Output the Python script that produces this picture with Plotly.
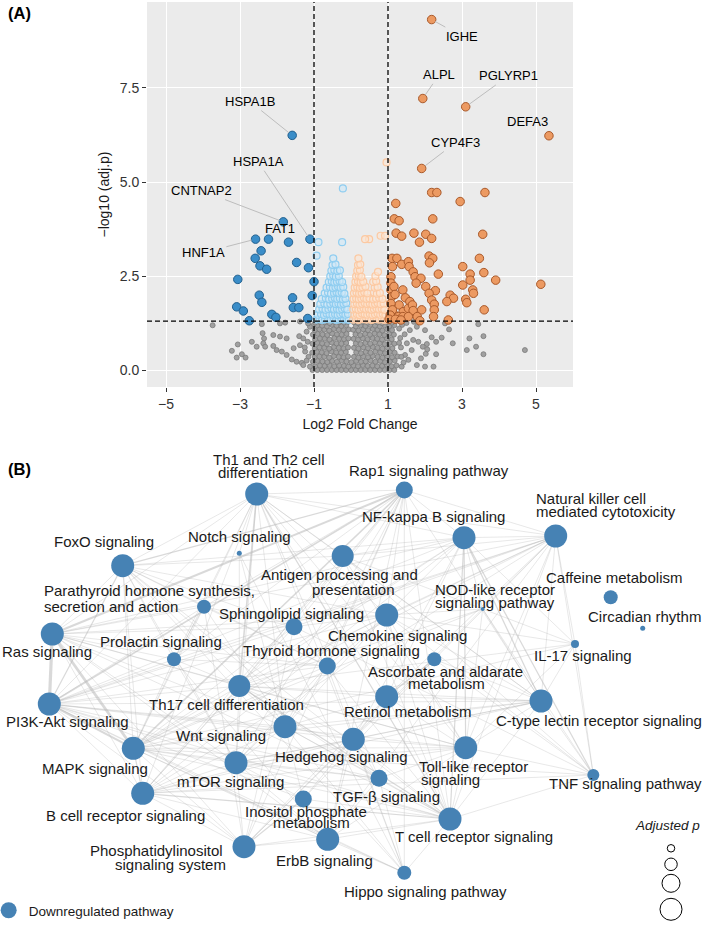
import plotly.graph_objects as go

# ---------------- Panel A : volcano data ----------------
gray_x = [
    -1.04,-0.91,-0.78,-0.65,-0.52,-0.39,-0.26,-0.13,0.00,0.13,0.26,0.39,0.52,0.65,0.78,0.91,1.04,1.17,
    -0.97,-0.84,-0.71,-0.58,-0.45,-0.32,-0.19,-0.07,0.07,0.19,0.32,0.45,0.58,0.71,0.84,0.97,1.10,1.23,
    -1.03,-0.90,-0.77,-0.64,-0.51,-0.38,-0.25,-0.12,0.01,0.14,0.27,0.40,0.53,0.66,0.79,0.92,1.05,1.18,
    -0.98,-0.85,-0.72,-0.59,-0.46,-0.33,-0.20,-0.08,0.08,0.20,0.33,0.46,0.59,0.72,0.85,0.98,1.11,1.26,
    -1.05,-0.92,-0.79,-0.66,-0.53,-0.40,-0.27,-0.14,0.14,0.27,0.40,0.53,0.66,0.79,0.92,1.05,1.18,
    -0.98,-0.85,-0.72,-0.59,-0.46,-0.33,-0.20,-0.08,0.08,0.20,0.33,0.46,0.59,0.72,0.85,0.98,1.12,
    -1.04,-0.91,-0.78,-0.65,-0.52,-0.39,-0.26,-0.13,0.13,0.26,0.39,0.52,0.65,0.78,0.91,1.04,1.17,1.30,
    -0.97,-0.84,-0.71,-0.58,-0.45,-0.32,-0.19,-0.07,0.07,0.19,0.32,0.45,0.58,0.71,0.84,0.97,1.10,
    -1.03,-0.90,-0.77,-0.64,-0.51,-0.38,-0.25,-0.12,0.12,0.25,0.38,0.51,0.64,0.77,0.90,1.03,1.16,
    -0.98,-0.85,-0.72,-0.59,-0.46,-0.33,-0.20,-0.06,0.06,0.20,0.33,0.46,0.59,0.72,0.85,0.98,1.11,
    -1.04,-0.91,-0.78,-0.65,-0.52,-0.39,-0.26,-0.13,0.13,0.26,0.39,0.52,0.65,0.78,0.91,1.04,1.17,
    -0.97,-0.84,-0.71,-0.58,-0.45,-0.32,-0.19,-0.08,0.08,0.19,0.32,0.45,0.58,0.71,0.84,0.97,1.10,
    # scattered, left
    -3.74,-2.41,-1.92,-1.78,-1.38,-2.39,-2.35,-2.37,-2.32,-3.22,-3.06,-3.09,-2.85,-2.95,-2.68,-2.55,
    -2.10,-2.01,-1.87,-1.74,-1.60,-1.47,-1.33,-2.10,-1.92,-1.74,-1.40,-1.29,-1.17,-1.20,-1.11,-1.38,
    -1.24,-1.15,-1.29,-1.11,-1.55,-1.20,-1.16,-1.25,
    # scattered, right
    2.54,3.44,3.58,3.20,3.38,3.13,3.58,4.70,2.75,2.65,2.45,2.30,2.18,2.05,2.23,2.00,2.30,2.02,1.89,
    1.78,2.00,1.78,1.59,1.68,1.51,1.64,1.46,1.55,1.37,1.82,1.94,2.06,1.38,1.45,1.35,1.42,1.33,1.30,
    1.50,1.70,1.36,
]
gray_y = [
    0.00,0.00,0.00,0.00,0.00,0.00,0.00,0.00,0.00,0.00,0.00,0.00,0.00,0.00,0.00,0.00,0.00,0.00,
    0.10,0.12,0.11,0.13,0.10,0.12,0.11,0.09,0.12,0.10,0.13,0.11,0.12,0.10,0.11,0.13,0.10,0.12,
    0.22,0.24,0.23,0.21,0.24,0.22,0.25,0.23,0.21,0.24,0.22,0.23,0.25,0.22,0.24,0.21,0.23,0.25,
    0.34,0.36,0.35,0.33,0.37,0.35,0.34,0.36,0.35,0.33,0.36,0.34,0.37,0.35,0.33,0.36,0.34,0.36,
    0.46,0.48,0.47,0.45,0.49,0.47,0.46,0.48,0.47,0.45,0.48,0.46,0.49,0.47,0.45,0.48,0.46,
    0.58,0.60,0.59,0.57,0.61,0.59,0.58,0.60,0.59,0.57,0.60,0.58,0.61,0.59,0.57,0.60,0.58,
    0.70,0.72,0.71,0.69,0.73,0.71,0.70,0.72,0.71,0.69,0.72,0.70,0.73,0.71,0.69,0.72,0.70,0.72,
    0.82,0.84,0.83,0.81,0.85,0.83,0.82,0.84,0.83,0.81,0.84,0.82,0.85,0.83,0.81,0.84,0.82,
    0.94,0.96,0.95,0.93,0.97,0.95,0.94,0.96,0.95,0.93,0.96,0.94,0.97,0.95,0.93,0.96,0.94,
    1.06,1.08,1.07,1.05,1.09,1.07,1.06,1.08,1.07,1.05,1.08,1.06,1.09,1.07,1.05,1.08,1.06,
    1.17,1.19,1.18,1.16,1.20,1.18,1.17,1.19,1.16,1.19,1.17,1.20,1.18,1.16,1.19,1.17,1.19,
    1.26,1.28,1.27,1.25,1.28,1.27,1.26,1.28,1.27,1.25,1.28,1.26,1.28,1.27,1.25,1.28,1.26,
    1.19,1.22,1.24,1.26,1.29,0.98,0.84,0.71,0.62,0.51,0.68,0.33,0.33,0.42,0.75,0.62,
    0.64,0.53,0.49,0.40,0.28,0.22,0.19,0.93,0.89,0.84,0.90,0.84,0.75,1.02,1.15,0.66,
    0.49,0.35,0.13,0.09,0.58,0.25,1.24,0.60,
    1.24,1.22,0.90,0.84,0.62,0.53,0.42,0.53,0.71,1.08,0.86,0.75,0.87,0.69,0.09,0.09,0.42,0.43,0.31,
    0.13,1.06,1.15,1.06,0.80,0.71,0.53,0.40,0.27,0.09,0.75,0.62,0.55,1.20,0.95,0.60,0.20,0.85,1.10,
    1.25,1.28,0.35,
]

lightblue_x = [
    -0.93,-0.85,-0.78,-0.70,-0.62,-0.55,-0.47,-0.40,-0.33,-0.26,-0.19,-0.12,-0.06,
    -0.90,-0.81,-0.73,-0.66,-0.58,-0.50,-0.43,-0.36,-0.29,-0.22,-0.15,-0.08,
    -0.86,-0.77,-0.69,-0.61,-0.53,-0.46,-0.38,-0.31,-0.24,-0.17,-0.10,
    -0.83,-0.72,-0.64,-0.56,-0.48,-0.41,-0.34,-0.27,-0.20,-0.13,
    -0.79,-0.68,-0.59,-0.51,-0.44,-0.37,-0.30,-0.22,-0.15,
    -0.71,-0.62,-0.54,-0.46,-0.39,-0.32,-0.25,-0.18,
    -0.66,-0.57,-0.49,-0.42,-0.35,-0.28,-0.21,
    -0.60,-0.52,-0.45,-0.38,-0.31,-0.24,
    -0.56,-0.48,-0.41,-0.33,
    -0.53,-0.45,-0.37,-0.30,
    -0.50,-0.42,
    -0.88,-0.24,-0.93,-0.48,-0.22,
]
lightblue_y = [
    1.34,1.36,1.33,1.35,1.37,1.34,1.36,1.33,1.35,1.37,1.34,1.36,1.33,
    1.47,1.49,1.46,1.50,1.48,1.47,1.49,1.46,1.48,1.50,1.47,1.49,
    1.61,1.63,1.60,1.62,1.64,1.61,1.63,1.60,1.62,1.64,1.61,
    1.75,1.77,1.74,1.76,1.78,1.75,1.77,1.74,1.76,1.78,
    1.89,1.91,1.88,1.90,1.92,1.89,1.91,1.88,1.90,
    2.04,2.06,2.03,2.05,2.07,2.04,2.06,2.03,
    2.19,2.21,2.18,2.20,2.22,2.19,2.21,
    2.34,2.36,2.33,2.35,2.37,2.34,
    2.49,2.51,2.48,2.50,
    2.64,2.66,2.63,2.65,
    2.79,2.81,
    3.40,3.40,3.04,2.97,4.83,
]

peach_x = [
    0.06,0.13,0.20,0.27,0.34,0.41,0.48,0.55,0.62,0.69,0.76,0.83,0.90,0.97,
    0.09,0.16,0.23,0.30,0.37,0.44,0.51,0.58,0.65,0.72,0.79,0.86,0.93,
    0.06,0.13,0.20,0.27,0.34,0.41,0.48,0.55,0.62,0.69,0.76,0.83,0.90,
    0.09,0.16,0.23,0.30,0.37,0.44,0.51,0.58,0.65,0.72,0.80,0.88,
    0.07,0.14,0.21,0.28,0.35,0.42,0.50,0.60,0.68,0.76,0.85,
    0.08,0.15,0.22,0.29,0.36,0.44,0.62,0.70,0.78,
    0.10,0.17,0.24,0.31,0.39,0.64,0.72,
    0.12,0.19,0.26,0.33,0.60,0.68,
    0.14,0.21,0.28,0.66,
    0.17,0.24,0.73,
    0.19,0.25,0.20,
    0.49,0.38,0.80,0.92,0.96,
]
peach_y = [
    1.34,1.36,1.33,1.35,1.37,1.34,1.36,1.33,1.35,1.37,1.34,1.36,1.33,1.35,
    1.47,1.49,1.46,1.50,1.48,1.47,1.49,1.46,1.48,1.50,1.47,1.49,1.46,
    1.61,1.63,1.60,1.62,1.64,1.61,1.63,1.60,1.62,1.64,1.61,1.63,1.60,
    1.75,1.77,1.74,1.76,1.78,1.75,1.77,1.74,1.76,1.78,1.75,1.77,
    1.89,1.91,1.88,1.90,1.92,1.89,1.91,1.88,1.90,1.92,1.89,
    2.04,2.06,2.03,2.05,2.07,2.04,2.06,2.03,2.05,
    2.19,2.21,2.18,2.20,2.22,2.19,2.21,
    2.34,2.36,2.33,2.35,2.34,2.36,
    2.49,2.51,2.48,2.50,
    2.64,2.66,2.61,
    2.79,2.81,2.97,
    3.48,3.48,3.57,3.57,5.52,
]

down_x = [-1.59,-1.83,-2.58,-2.23,-1.69,-1.11,-2.43,-2.59,-1.47,-2.46,-2.28,-1.15,-3.06,-1.00,
          -2.48,-1.05,-1.58,-2.41,-3.09,-2.91,-1.56,-1.41,-2.14,-2.03,-2.75,-1.17]
down_y = [6.24,3.94,3.48,3.48,3.40,3.48,3.17,2.97,2.86,2.77,2.68,2.72,2.41,2.35,
          1.99,1.98,1.92,1.80,1.68,1.57,1.66,1.66,1.48,1.40,1.31,1.37]

up_x = [2.18,1.94,3.10,5.35,1.91,2.18,2.32,3.62,1.21,2.95,1.17,1.30,2.21,1.22,1.37,1.70,2.02,2.18,1.85,3.56,
        1.11,1.24,1.12,1.37,1.55,1.57,2.11,2.21,2.12,1.68,1.73,1.89,1.76,2.36,3.02,3.22,3.22,3.59,3.47,3.91,
        5.13,3.02,3.29,3.31,1.40,2.02,2.28,2.11,2.68,2.77,2.59,3.10,3.13,1.47,1.59,2.18,2.25,1.30,1.41,1.55,
        1.66,1.91,1.68,2.25,3.60,1.14,1.28,1.40,1.55,1.79,1.86,2.23,2.63,1.08,1.08,1.08,1.10,1.08,1.12,1.06,
        1.16,1.19,1.03,1.20,1.35]
up_y = [9.32,7.22,7.00,6.23,5.36,4.72,4.72,4.72,4.43,4.48,4.02,3.97,4.02,3.64,3.56,3.64,3.61,3.50,3.40,3.61,
        2.97,2.97,2.75,2.81,2.88,2.75,3.03,2.97,2.85,2.61,2.48,2.44,2.31,2.55,2.75,2.55,2.39,2.59,2.97,2.39,
        2.28,2.26,2.13,2.04,2.13,2.22,2.11,2.04,1.99,1.91,1.82,1.88,1.79,1.92,1.82,1.86,1.75,1.73,1.55,1.64,
        1.73,1.60,1.58,1.60,1.60,1.51,1.42,1.42,1.42,1.42,1.31,1.42,1.33,2.48,2.31,2.13,1.95,1.77,1.60,1.46,
        2.22,2.01,1.35,1.35,1.33]

gene_labels = ["IGHE", "ALPL", "PGLYRP1", "DEFA3", "CYP4F3", "HSPA1B", "HSPA1A", "CNTNAP2", "FAT1", "HNF1A"]
gene_x = [2.18, 1.94, 3.10, 5.35, 1.91, -1.59, -1.11, -1.83, -1.69, -2.58]
gene_y = [9.32, 7.22, 7.00, 6.23, 5.36, 6.24, 3.48, 3.94, 3.40, 3.48]
gene_label_x = [2.99, 2.38, 4.25, 4.77, 2.83, -2.73, -2.51, -4.04, -1.92, -3.99]
gene_label_y = [8.88, 7.85, 7.82, 6.60, 6.05, 7.14, 5.54, 4.77, 3.77, 3.12]
gene_segment = [True, True, True, False, True, True, True, True, False, True]

x_ticks = [-5, -3, -1, 1, 3, 5]
x_ticktext = ["\u22125", "\u22123", "\u22121", "1", "3", "5"]
y_ticks = [0.0, 2.5, 5.0, 7.5]
fc_cut = 1.0
p_cut = 1.30103  # -log10(0.05)

# ---------------- Panel B : pathway network ----------------
node_id = ["Th1", "Rap1", "NFkB", "NK", "FoxO", "Notch", "Antigen", "Parathyroid", "Sphingo", "Chemokine",
           "NOD", "Caffeine", "Circadian", "Ras", "Prolactin", "Thyroid", "Ascorbate", "IL17", "Th17", "PI3K",
           "Retinol", "Ctype", "Wnt", "Hedgehog", "MAPK", "Toll", "mTOR", "TGFb", "TNF", "Inositol",
           "Bcell", "Tcell", "PhosIno", "ErbB", "Hippo"]
node_x = [256.7, 404.3, 464.0, 555.7, 122.7, 239.3, 342.7, 204.0, 294.0, 386.7,
          482.7, 610.7, 642.7, 52.3, 174.0, 327.3, 434.3, 575.0, 239.3, 49.3,
          386.7, 541.0, 285.0, 353.3, 133.3, 465.7, 236.0, 379.0, 593.3, 303.3,
          142.7, 450.0, 244.0, 327.7, 404.3]
node_y = [494.0, 490.0, 537.7, 536.0, 565.7, 553.3, 556.0, 606.7, 626.7, 615.0,
          609.0, 597.3, 628.3, 634.0, 659.3, 666.0, 659.3, 644.0, 686.0, 704.0,
          696.7, 701.0, 726.7, 739.3, 748.3, 747.7, 762.7, 778.3, 775.0, 799.0,
          793.3, 819.0, 846.7, 839.3, 872.7]
node_size = [23, 17, 23, 23, 23, 5, 22, 14, 17, 23,
             4, 14, 5, 23, 14, 17, 14, 8, 22, 23,
             23, 23, 23, 23, 23, 23, 23, 17, 12, 17,
             23, 23, 23, 23, 14]

edges = [
    ("Ras","PI3K",4),("Ras","MAPK",3.5),("PI3K","MAPK",2.5),("Ras","Rap1",2.5),("PI3K","Rap1",2),("MAPK","Rap1",2),
    ("FoxO","PI3K",1.5),("FoxO","Ras",1),("FoxO","MAPK",1),("FoxO","mTOR",1),("FoxO","Th1",1),("FoxO","Rap1",1.5),
    ("FoxO","Antigen",1),("FoxO","Chemokine",1),("FoxO","NFkB",1),("FoxO","Thyroid",1),("FoxO","Prolactin",1),
    ("FoxO","Wnt",1),("FoxO","Tcell",1),("FoxO","TGFb",1),("FoxO","Hippo",1),("FoxO","Bcell",1),("FoxO","Sphingo",1),
    ("Th1","Th17",2),("Th1","Tcell",1.5),("Th1","NFkB",1),("Th1","Notch",1),("Th1","MAPK",1),("Th1","PI3K",1),
    ("Th1","Ras",1),("Th1","Antigen",1),("Th1","Toll",1),("Th1","Ctype",1),("Th1","Chemokine",1),("Th1","Bcell",1),
    ("Th1","mTOR",1),("Th1","Prolactin",1),("Th1","TGFb",1),("Th1","NK",1),("Th1","Rap1",1),("Th1","Wnt",1),
    ("Th1","Hedgehog",1),("Th1","Retinol",1),
    ("Rap1","Chemokine",1),("Rap1","NFkB",1),("Rap1","Sphingo",1),("Rap1","Thyroid",1),("Rap1","Prolactin",1),
    ("Rap1","Parathyroid",1),("Rap1","Tcell",1),("Rap1","Bcell",1),("Rap1","ErbB",1),("Rap1","mTOR",1),
    ("Rap1","Wnt",1),("Rap1","Ctype",1),("Rap1","PhosIno",1),("Rap1","Hippo",1),("Rap1","Th17",1),("Rap1","NK",1),
    ("NFkB","Toll",1.5),("NFkB","Tcell",1.5),("NFkB","Bcell",1),("NFkB","TNF",1.5),("NFkB","IL17",1),("NFkB","NOD",1),
    ("NFkB","Chemokine",1),("NFkB","Ctype",1.5),("NFkB","Antigen",1),("NFkB","Th17",1),("NFkB","PI3K",1),
    ("NFkB","MAPK",1),("NFkB","NK",1),("NFkB","Ras",1),("NFkB","Retinol",1),("NFkB","Hedgehog",1),
    ("NK","Tcell",1),("NK","Bcell",1),("NK","Ctype",1),("NK","IL17",1),("NK","TNF",1),("NK","Antigen",1),
    ("NK","Chemokine",1),("NK","MAPK",1),("NK","PI3K",1),("NK","Ras",1),("NK","Toll",1),("NK","Sphingo",1),
    ("NK","Th17",1),("NK","Ascorbate",1),("NK","Retinol",1),("NK","PhosIno",1),("NK","ErbB",1),("NK","Prolactin",1),
    ("Antigen","Th17",1),("Antigen","Tcell",1),("Antigen","Toll",1),("Antigen","NOD",1),("Antigen","TNF",1),("Antigen","Ctype",1),
    ("Chemokine","PI3K",1),("Chemokine","Ras",1),("Chemokine","MAPK",1),("Chemokine","Toll",1),("Chemokine","NOD",1),
    ("Chemokine","IL17",1),("Chemokine","TNF",1),("Chemokine","Ctype",1),("Chemokine","Tcell",1),("Chemokine","Wnt",1),
    ("Chemokine","mTOR",1),("Chemokine","Sphingo",1),("Chemokine","Thyroid",1),("Chemokine","Retinol",1),
    ("Parathyroid","Ras",1),("Parathyroid","PI3K",1),("Parathyroid","MAPK",1),("Parathyroid","Thyroid",1),
    ("Parathyroid","Sphingo",1),("Parathyroid","Wnt",1),("Parathyroid","FoxO",1),("Parathyroid","PhosIno",1),("Parathyroid","Prolactin",1),
    ("Sphingo","Ras",1),("Sphingo","PI3K",1),("Sphingo","MAPK",1),("Sphingo","Tcell",1),("Sphingo","TNF",1),
    ("Sphingo","Bcell",1),("Sphingo","PhosIno",1),
    ("NOD","Toll",1),("NOD","IL17",1),("NOD","TNF",1),("NOD","Ctype",1),("NOD","MAPK",1),("NOD","Th17",1),
    ("Prolactin","Ras",1),("Prolactin","PI3K",1),("Prolactin","MAPK",1),("Prolactin","Th17",1),("Prolactin","mTOR",1),
    ("Prolactin","ErbB",1),("Prolactin","Thyroid",1),
    ("Thyroid","PI3K",1),("Thyroid","Ras",1),("Thyroid","MAPK",1),("Thyroid","Wnt",1),("Thyroid","mTOR",1),
    ("Thyroid","ErbB",1),("Thyroid","Hippo",1),
    ("Ascorbate","Retinol",1.5),("Ascorbate","Inositol",1),("Ascorbate","PhosIno",1),("Ascorbate","TNF",1),("Ascorbate","Ctype",1),
    ("IL17","Toll",1),("IL17","TNF",1),("IL17","Ctype",1),("IL17","MAPK",1),("IL17","Th17",1),
    ("Th17","Tcell",1.5),("Th17","PI3K",1),("Th17","Ras",1),("Th17","MAPK",1),("Th17","TGFb",1),("Th17","mTOR",1),
    ("Th17","Toll",1),("Th17","Ctype",1),("Th17","Bcell",1),("Th17","Wnt",1),("Th17","Hedgehog",1),
    ("PI3K","mTOR",1),("PI3K","Bcell",1),("PI3K","Tcell",1),("PI3K","ErbB",1),("PI3K","Toll",1),("PI3K","Wnt",1),
    ("PI3K","PhosIno",1),("PI3K","Ctype",1),("PI3K","Hippo",1),("PI3K","TGFb",1),("PI3K","Hedgehog",1),("PI3K","Inositol",1),
    ("Ras","mTOR",1),("Ras","Bcell",1),("Ras","Tcell",1),("Ras","ErbB",1),("Ras","PhosIno",1),("Ras","Toll",1),("Ras","Wnt",1),
    ("MAPK","Bcell",1.5),("MAPK","Tcell",1),("MAPK","ErbB",1),("MAPK","Toll",1),("MAPK","TNF",1),("MAPK","Ctype",1),
    ("MAPK","mTOR",1),("MAPK","Wnt",1),("MAPK","TGFb",1),("MAPK","PhosIno",1),("MAPK","Hippo",1),
    ("Retinol","Inositol",1),("Retinol","Hedgehog",1),("Retinol","Tcell",1),("Retinol","Toll",1),("Retinol","Ctype",1),
    ("Retinol","Wnt",1),("Retinol","Th17",1),("Retinol","PhosIno",1),
    ("Ctype","Toll",1),("Ctype","Tcell",1),("Ctype","TNF",1),("Ctype","Bcell",1),("Ctype","Hedgehog",1),("Ctype","Wnt",1),("Ctype","mTOR",1),
    ("Wnt","Hedgehog",1),("Wnt","mTOR",1),("Wnt","Hippo",1),("Wnt","TGFb",1),("Wnt","Tcell",1),("Wnt","Bcell",1),
    ("Wnt","PhosIno",1),("Wnt","Inositol",1),
    ("Hedgehog","Hippo",1),("Hedgehog","TGFb",1),("Hedgehog","mTOR",1),("Hedgehog","Toll",1),("Hedgehog","Tcell",1),
    ("Hedgehog","Bcell",1),("Hedgehog","ErbB",1),
    ("Toll","Tcell",1),("Toll","TNF",1),("Toll","Bcell",1),("Toll","mTOR",1),("Toll","TGFb",1),("Toll","ErbB",1),
    ("mTOR","Bcell",1),("mTOR","ErbB",1),("mTOR","PhosIno",1),("mTOR","TGFb",1),("mTOR","Tcell",1),("mTOR","Inositol",1),
    ("TGFb","Tcell",1),("TGFb","Hippo",1),("TGFb","ErbB",1),("TGFb","Bcell",1),
    ("TNF","Tcell",1),("TNF","Bcell",1),
    ("Inositol","PhosIno",1.5),("Inositol","ErbB",1),("Inositol","Tcell",1),
    ("Bcell","Tcell",1.5),("Bcell","PhosIno",1),("Bcell","ErbB",1),
    ("Tcell","ErbB",1),("Tcell","Hippo",1),("Tcell","PhosIno",1),
    ("PhosIno","ErbB",1),("ErbB","Hippo",1),
    ("Notch","Th17",1),("Notch","Wnt",1),("Notch","Hippo",1),
]

# label lines: (text, x, y, anchor)
net_labels = [
    ("Th1 and Th2 cell", 268.8, 460.0, "center"),
    ("differentiation", 263.0, 472.7, "center"),
    ("Rap1 signaling pathway", 428.7, 470.7, "center"),
    ("NF-kappa B signaling", 433.7, 516.7, "center"),
    ("Natural killer cell", 534.3, 499.0, "left"),
    ("mediated cytotoxicity", 534.3, 511.7, "left"),
    ("FoxO signaling", 104.0, 541.7, "center"),
    ("Notch signaling", 239.2, 536.7, "center"),
    ("Antigen processing and", 339.7, 574.3, "center"),
    ("presentation", 353.7, 589.3, "center"),
    ("Parathyroid hormone synthesis,", 41.7, 590.7, "left"),
    ("secretion and action", 41.7, 606.7, "left"),
    ("Sphingolipid signaling", 291.5, 613.3, "center"),
    ("Chemokine signaling", 397.2, 635.0, "center"),
    ("NOD-like receptor", 432.7, 589.0, "left"),
    ("signaling pathway", 432.7, 602.3, "left"),
    ("Caffeine metabolism", 614.2, 577.3, "center"),
    ("Circadian rhythm", 644.2, 616.7, "center"),
    ("IL-17 signaling", 582.9, 655.7, "center"),
    ("Ras signaling", 46.7, 651.7, "center"),
    ("Prolactin signaling", 160.8, 641.0, "center"),
    ("Thyroid hormone signaling", 331.7, 650.7, "center"),
    ("Ascorbate and aldarate", 445.8, 671.0, "center"),
    ("metabolism", 446.7, 683.3, "center"),
    ("Retinol metabolism", 408.0, 711.7, "center"),
    ("C-type lectin receptor signaling", 598.5, 720.8, "center"),
    ("Th17 cell differentiation", 226.7, 704.3, "center"),
    ("PI3K-Akt signaling", 67.5, 721.7, "center"),
    ("Wnt signaling", 221.3, 735.7, "center"),
    ("MAPK signaling", 94.5, 768.3, "center"),
    ("mTOR signaling", 230.0, 781.7, "center"),
    ("Hedgehog signaling", 341.0, 756.7, "center"),
    ("Toll-like receptor", 416.7, 766.0, "left"),
    ("signaling", 419.0, 779.3, "left"),
    ("TGF-\u03b2 signaling", 386.3, 796.7, "center"),
    ("Inositol phosphate", 305.5, 811.7, "center"),
    ("metabolism", 311.7, 822.7, "center"),
    ("B cell receptor signaling", 125.0, 815.0, "center"),
    ("Phosphatidylinositol", 225.0, 850.0, "right"),
    ("signaling system", 228.3, 864.3, "right"),
    ("ErbB signaling", 324.0, 860.7, "center"),
    ("T cell receptor signaling", 473.7, 836.7, "center"),
    ("Hippo signaling pathway", 425.8, 891.0, "center"),
    ("TNF signaling pathway", 625.3, 783.3, "center"),
]

size_key_size = [7.5, 12.5, 18, 22]
size_key_y = [848.3, 864.3, 883.3, 909.3]

FONT = "Liberation Sans, Arial, Helvetica, sans-serif"
W, H = 709, 926

fig = go.Figure()

# panel A background (grey panel only behind the volcano plot)
fig.add_shape(type="rect", xref="x domain", yref="y domain", x0=0, x1=1, y0=0, y1=1,
              fillcolor="#ebebeb", line=dict(width=0), layer="below")

# ---- volcano traces ----
fig.add_trace(go.Scatter(x=gray_x, y=gray_y, mode="markers", xaxis="x", yaxis="y", showlegend=False,
                         hoverinfo="skip",
                         marker=dict(size=5, color="#a0a0a0", opacity=1, line=dict(color="#7a7a7a", width=0.8))))
fig.add_trace(go.Scatter(x=lightblue_x, y=lightblue_y, mode="markers", xaxis="x", yaxis="y", showlegend=False,
                         hoverinfo="skip",
                         marker=dict(size=7, color="rgba(205,232,248,0.6)", opacity=1,
                                     line=dict(color="#8fcdf0", width=1.2))))
fig.add_trace(go.Scatter(x=peach_x, y=peach_y, mode="markers", xaxis="x", yaxis="y", showlegend=False,
                         hoverinfo="skip",
                         marker=dict(size=7, color="rgba(254,228,208,0.6)", opacity=1,
                                     line=dict(color="#fcc9a2", width=1.2))))
fig.add_trace(go.Scatter(x=down_x, y=down_y, mode="markers", xaxis="x", yaxis="y", showlegend=False,
                         hoverinfo="skip",
                         marker=dict(size=8.5, color="#3a8dc8", opacity=1, line=dict(color="#22608e", width=1))))
fig.add_trace(go.Scatter(x=up_x, y=up_y, mode="markers", xaxis="x", yaxis="y", showlegend=False,
                         hoverinfo="skip",
                         marker=dict(size=8.5, color="#ec9a62", opacity=1, line=dict(color="#a9592a", width=1))))

for g, gx, gy, lx, ly, seg in zip(gene_labels, gene_x, gene_y, gene_label_x, gene_label_y, gene_segment):
    if seg:
        fig.add_annotation(x=gx, y=gy, ax=lx, ay=ly, xref="x", yref="y", axref="x", ayref="y",
                           text=g, showarrow=True, arrowhead=0, arrowwidth=1, arrowcolor="#bdbdbd",
                           standoff=4, font=dict(family=FONT, size=13, color="black"))
    else:
        fig.add_annotation(x=lx, y=ly, xref="x", yref="y", text=g, showarrow=False,
                           font=dict(family=FONT, size=13, color="black"))

for xv in (-fc_cut, fc_cut):
    fig.add_shape(type="line", xref="x", yref="y domain", x0=xv, x1=xv, y0=0, y1=1,
                  line=dict(color="black", width=1.3, dash="5px,3px"))
fig.add_shape(type="line", xref="x domain", yref="y", x0=0, x1=1, y0=p_cut, y1=p_cut,
              line=dict(color="black", width=1.3, dash="5px,3px"))

# ---- network traces ----
idx = {k: i for i, k in enumerate(node_id)}
groups = {}
for a, b, w in edges:
    groups.setdefault(w, []).append((a, b))
for w in sorted(groups):
    ex, ey = [], []
    for a, b in groups[w]:
        ex += [node_x[idx[a]], node_x[idx[b]], None]
        ey += [node_y[idx[a]], node_y[idx[b]], None]
    col = "rgba(170,170,170,0.35)" if w <= 1 else "rgba(185,185,185,0.55)"
    fig.add_trace(go.Scatter(x=ex, y=ey, mode="lines", xaxis="x2", yaxis="y2", showlegend=False,
                             hoverinfo="skip", line=dict(color=col, width=0.8 * w)))

fig.add_trace(go.Scatter(x=node_x, y=node_y, mode="markers", xaxis="x2", yaxis="y2",
                         name="Downregulated pathway", showlegend=True, hoverinfo="skip",
                         marker=dict(size=node_size, color="#4682b4", opacity=1, line=dict(width=0))))

for txt, lx, ly, anc in net_labels:
    fig.add_annotation(x=lx, y=ly, xref="x2", yref="y2", text=txt, showarrow=False,
                       xanchor=anc, yanchor="middle",
                       font=dict(family=FONT, size=15, color="#1a1a1a"))

# size key
fig.add_trace(go.Scatter(x=[671] * len(size_key_size), y=size_key_y, mode="markers", xaxis="x2", yaxis="y2",
                         showlegend=False, hoverinfo="skip",
                         marker=dict(size=size_key_size, color="rgba(0,0,0,0)", opacity=1,
                                     line=dict(color="black", width=1))))
fig.add_annotation(x=667.5, y=825, xref="x2", yref="y2", text="<i>Adjusted p</i>", showarrow=False,
                   font=dict(family=FONT, size=13.5, color="#1a1a1a"))

# panel tags
fig.add_annotation(x=6 / W, y=1 - 13 / H, xref="paper", yref="paper", xanchor="left", yanchor="middle",
                   text="<b>(A)</b>", showarrow=False, font=dict(family=FONT, size=16.5, color="black"))
fig.add_annotation(x=6 / W, y=1 - 469 / H, xref="paper", yref="paper", xanchor="left", yanchor="middle",
                   text="<b>(B)</b>", showarrow=False, font=dict(family=FONT, size=16.5, color="black"))

fig.update_layout(
    width=W, height=H, margin=dict(l=0, r=0, t=0, b=0, autoexpand=False),
    paper_bgcolor="white", plot_bgcolor="rgba(0,0,0,0)",
    font=dict(family=FONT, color="#1a1a1a"),
    xaxis=dict(domain=[147 / W, 573 / W], anchor="y", range=[-5.514, 6.0], automargin=False,
               tickvals=x_ticks, ticktext=x_ticktext, ticks="outside", ticklen=4, tickwidth=1.2,
               tickcolor="#333", tickfont=dict(size=14, color="#333"),
               showgrid=True, gridcolor="white", gridwidth=1.3, zeroline=False, showline=False,
               title=dict(text="Log2 Fold Change", font=dict(size=14, color="#1a1a1a"), standoff=8)),
    yaxis=dict(domain=[1 - 387 / H, 1 - 2 / H], anchor="x", range=[-0.452, 9.787], automargin=False,
               tickvals=y_ticks, tickformat=".1f", ticks="outside", ticklen=4, tickwidth=1.2,
               tickcolor="#333", tickfont=dict(size=14, color="#333"),
               showgrid=True, gridcolor="white", gridwidth=1.3, zeroline=False, showline=False,
               title=dict(text="\u2212log10 (adj.p)", font=dict(size=14, color="#1a1a1a"), standoff=6)),
    xaxis2=dict(domain=[0, 1], anchor="y2", range=[0, W], visible=False, fixedrange=True, automargin=False),
    yaxis2=dict(domain=[0, 1 - 430 / H], anchor="x2", range=[H, 430], visible=False, fixedrange=True,
                automargin=False),
    legend=dict(x=-0.016, y=0.0, xanchor="left", yanchor="bottom", bgcolor="rgba(0,0,0,0)",
                font=dict(family=FONT, size=13.5, color="#1a1a1a"), itemsizing="trace"),
)

fig.write_html("out.html", config={"displayModeBar": False},
               post_script="document.body.style.margin='0';document.body.style.padding='0';"
                           "document.documentElement.style.margin='0';")
